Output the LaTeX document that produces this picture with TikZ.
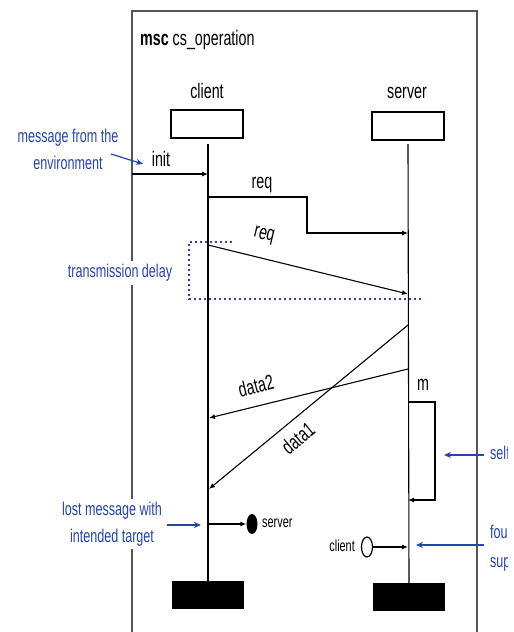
\documentclass[tikz,border=0pt]{standalone}
\usepackage{fontspec}
\setmainfont[FakeStretch=0.68]{Liberation Sans}
\usetikzlibrary{arrows.meta,shapes.geometric}
\definecolor{notes}{RGB}{38,68,170}
\definecolor{framegray}{RGB}{85,85,85}
\begin{document}
\begin{tikzpicture}[x=1pt,y=-1pt,
  msg/.style={draw=black, line width=1.1pt, -{Latex[length=6pt,width=5pt]}},
  note/.style={text=notes, font=\fontsize{18.5}{27}\selectfont, align=center, inner sep=1pt},
  notearrow/.style={draw=notes, line width=1.2pt, -{Stealth[length=7pt,width=6pt]}},
  head/.style={draw, line width=1.2pt, minimum width=72pt, minimum height=28pt, inner sep=0pt},
  endbar/.style={fill=black, minimum width=72pt, minimum height=28pt, inner sep=0pt},
  lbl/.style={font=\fontsize{21}{23}\selectfont, inner sep=0pt},
  small/.style={font=\fontsize{16}{18}\selectfont, inner sep=0pt},
  lifeline/.style={draw=black, line width=1.1pt},
  delay/.style={draw=notes, line width=1.6pt, dash pattern=on 2pt off 3pt},
  blob/.style={ellipse, minimum width=11pt, minimum height=20pt, inner sep=0pt}]
\useasboundingbox (0,0) rectangle (514,632);
% the drawing ends a little short of the right page edge
\clip (0,0) rectangle (507,632);

% frame of the chart
\draw[framegray, line width=1.5pt] (132,660) -- (132,11) -- (477,11) -- (477,660);
\node[lbl, anchor=base west] (title) at (140,45) {\textbf{msc} cs\_operation};

% instance heads and ends
\node[head] (chead) at (207,124) {};
\node[head] (shead) at (408,126) {};
\node[lbl, anchor=base] (cname) at (207,98) {client};
\node[lbl, anchor=base] (sname) at (407,98) {server};
\node[endbar] (cend) at (208,595) {};
\node[endbar] (send) at (409,597) {};

% lifelines
\coordinate (ctop) at (208,144);
\coordinate (stop) at (408,144);
\draw[lifeline] (ctop) -- (cend.north);
\draw[lifeline] (stop) -- (send.north);

% message from the environment
\coordinate (env) at (132,174);
\coordinate (cinit) at (208,174);
\draw[msg] (env) -- (cinit);
\node[lbl, anchor=base] (initlbl) at (161,166) {init};

% req with a bent path
\coordinate (creq) at (208,197);
\coordinate (sreq) at (408,233);
\draw[msg] (creq) -- (307,197) -- (307,233) -- (sreq);
\node[lbl, anchor=base] (req1lbl) at (262,188) {req};

% req with transmission delay
\coordinate (creq2) at (208,245);
\coordinate (sreq2) at (408,294);
\draw[msg] (creq2) -- (sreq2);
\node[lbl, rotate=-13.7] (req2lbl) at (264,236) {req};
\draw[delay] (232,242) -- (189,242) -- (189,299) -- (422,299);

% data messages
\coordinate (sd1) at (408,325);
\coordinate (cd1) at (209,489);
\draw[msg] (sd1) -- (cd1);
\node[lbl, rotate=39.3] (d1lbl) at (298,438) {data1};
\coordinate (sd2) at (408,369);
\coordinate (cd2) at (209,418);
\draw[msg] (sd2) -- (cd2);
\node[lbl, rotate=13.7] (d2lbl) at (256,386) {data2};

% self message
\coordinate (sm1) at (408,402);
\coordinate (sm2) at (408,500);
\draw[msg] (sm1) -- (435,402) -- (435,500) -- (sm2);
\node[lbl, anchor=base] (mlbl) at (423,390) {m};

% lost and found messages
\node[blob, fill=black] (lost) at (252,524) {};
\node[small, anchor=west] (lostto) at (262,523) {server};
\coordinate (clost) at (208,524);
\draw[msg] (clost) -- (lost.west);
\node[blob, draw=black, line width=1.2pt, fill=white] (found) at (367,547) {};
\node[small, anchor=east] (foundfrom) at (355,546) {client};
\coordinate (sfound) at (408,547);
\draw[msg] (found.east) -- (sfound);

% annotations
\node[note] (envnote) at (68,149) {message from the\\environment};
\coordinate (envtip) at (143,164);
\draw[notearrow] (111,154) -- (envtip);
\node[note, fill=white, inner sep=3pt] (delaynote) at (120,273) {transmission delay};
\node[note, fill=white, inner sep=3pt] (lostnote) at (112,524) {lost message with\\intended target};
\coordinate (losttip) at (201,525);
\draw[notearrow] (167,525) -- (losttip);
\node[note, anchor=west] (selfnote) at (489,455) {self message};
\coordinate (selftip) at (444,455);
\draw[notearrow] (484,455) -- (selftip);
\node[note, align=left, anchor=west, font=\fontsize{18.5}{29}\selectfont] (foundnote) at (489,548) {found message with\\supposed source};
\coordinate (foundtip) at (416,545);
\draw[notearrow] (484,545) -- (foundtip);
\end{tikzpicture}
\end{document}
